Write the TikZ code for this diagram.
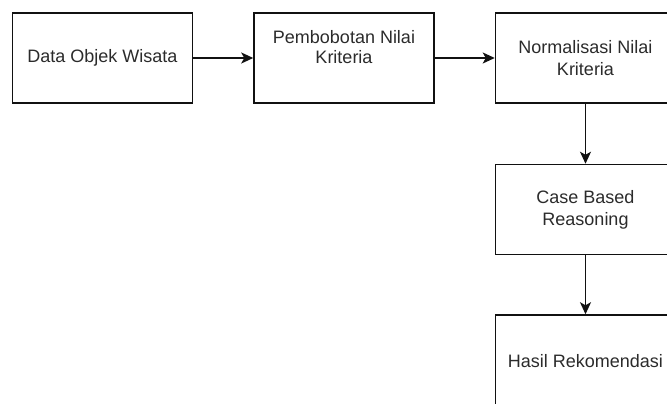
\documentclass[tikz,border=0pt]{standalone}
\usepackage{fontspec}
\setmainfont{Liberation Sans}
\usepackage{xcolor}
\usepackage{tikz}
\usetikzlibrary{positioning, arrows.meta}
\definecolor{stageline}{HTML}{111111}
\definecolor{stagetext}{HTML}{2B2B2B}

\tikzset{
  stage/.style={draw=stageline, line width=1.5pt, minimum width=180pt, minimum height=90pt,
    inner sep=0pt, align=center, text=stagetext, font=\fontsize{18}{22}\selectfont},
  stagelabel/.style={align=center, text=stagetext, font=\fontsize{18}{20}\selectfont},
  flow/.style={draw=stageline, line width=1.5pt, -{Stealth[length=12pt, width=11pt, inset=3pt]}}
}

\begin{document}
\begin{tikzpicture}[x=1pt, y=-1pt, node distance=60pt]
  \clip (0,0) rectangle (667,404);
  \node[stage] (data) at (102.5,58) {Data Objek Wisata};
  \node[stage, right=of data,
    label={[stagelabel, yshift=10.5pt]center:{Pembobotan Nilai\\Kriteria}}] (bobot) {};
  \node[stage, right=of bobot] (norm) {Normalisasi Nilai\\Kriteria};
  \node[stage, below=of norm] (cbr) {Case Based\\Reasoning};
  \node[stage, below=of cbr, minimum height=92pt, yshift=1pt] (hasil) {Hasil Rekomendasi};

  \draw[flow] (data) -- (bobot);
  \draw[flow] (bobot) -- (norm);
  \draw[flow] (norm) -- (cbr);
  \draw[flow] (cbr) -- (hasil);
\end{tikzpicture}
\end{document}
